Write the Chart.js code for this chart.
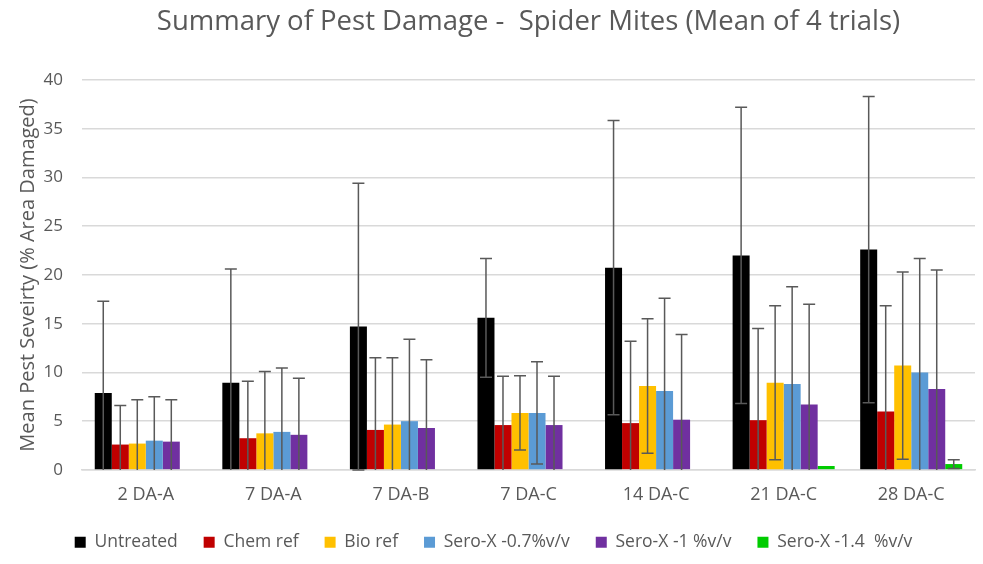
<!DOCTYPE html>
<html>
<head>
<meta charset="utf-8">
<script src="https://cdn.jsdelivr.net/npm/chart.js@4"></script>
<style>
  html, body { margin: 0; padding: 0; background: #fff; }
  #wrap { width: 983px; height: 564px; }
</style>
</head>
<body>
<div id="wrap"><canvas id="pestChart" width="983" height="564"></canvas></div>
<script>
const categories = ["2 DA-A", "7 DA-A", "7 DA-B", "7 DA-C", "14 DA-C", "21 DA-C", "28 DA-C"];
const seriesNames = ["Untreated", "Chem ref", "Bio ref", "Sero-X -0.7%v/v", "Sero-X -1 %v/v", "Sero-X -1.4  %v/v"];
const seriesColors = ["#000000", "#c00000", "#ffc000", "#5b9bd5", "#7030a0", "#00cc00"];

// mean values per series
const untreated = [7.9, 8.95, 14.7, 15.6, 20.75, 22.0, 22.6];
const chemRef   = [2.6, 3.25, 4.1, 4.6, 4.8, 5.1, 6.0];
const bioRef    = [2.7, 3.75, 4.65, 5.85, 8.6, 8.95, 10.7];
const sero07    = [3.0, 3.9, 5.0, 5.85, 8.1, 8.8, 10.0];
const sero1     = [2.9, 3.6, 4.3, 4.6, 5.15, 6.7, 8.3];
const sero14    = [null, null, null, null, null, 0.4, 0.6];

// error bar size (+/-) per series
const untreatedErr = [9.4, 11.65, 14.7, 6.1, 15.1, 15.2, 15.7];
const chemRefErr   = [4.0, 5.85, 7.4, 5.0, 8.4, 9.4, 10.85];
const bioRefErr    = [4.5, 6.35, 6.85, 3.8, 6.9, 7.9, 9.6];
const sero07Err    = [4.5, 6.55, 8.4, 5.25, 9.5, 10.0, 11.7];
const sero1Err     = [4.3, 5.8, 7.0, 5.0, 8.75, 10.3, 12.2];
const sero14Err    = [null, null, null, null, null, 0, 0.45];

const yTicks = [0, 5, 10, 15, 20, 25, 30, 35, 40];

const allValues = [untreated, chemRef, bioRef, sero07, sero1, sero14];
const allErrors = [untreatedErr, chemRefErr, bioRefErr, sero07Err, sero1Err, sero14Err];

const FONT = "'Open Sans', Lato, sans-serif";
const GREY = "#595959";

// draws the +/- error bars on top of the bars
const errorBars = {
    id: "errorBars",
    afterDatasetsDraw(chart) {
        const ctx = chart.ctx;
        const y = chart.scales.y;
        const area = chart.chartArea;
        ctx.save();
        ctx.beginPath();
        ctx.rect(area.left, area.top, area.right - area.left, area.bottom - area.top + 1);
        ctx.clip();
        ctx.strokeStyle = GREY;
        ctx.lineWidth = 1.5;
        chart.data.datasets.forEach((ds, i) => {
            const meta = chart.getDatasetMeta(i);
            meta.data.forEach((bar, j) => {
                const v = ds.data[j];
                const e = ds.errors[j];
                if (v == null || !e) return;
                const x = bar.x;
                const top = y.getPixelForValue(v + e);
                const low = v - e;
                const bottom = y.getPixelForValue(Math.max(0, low));
                ctx.beginPath();
                ctx.moveTo(x, top);
                ctx.lineTo(x, bottom);
                ctx.moveTo(x - 6, top);
                ctx.lineTo(x + 6, top);
                if (low >= 0) {
                    ctx.moveTo(x - 6, bottom);
                    ctx.lineTo(x + 6, bottom);
                }
                ctx.stroke();
            });
        });
        ctx.restore();
    }
};

const ctx = document.getElementById("pestChart").getContext("2d");
new Chart(ctx, {
    type: "bar",
    data: {
        labels: categories,
        datasets: seriesNames.map((name, i) => ({
            label: name,
            data: allValues[i],
            errors: allErrors[i],
            backgroundColor: seriesColors[i],
            borderWidth: 0,
            barPercentage: 1.0,
            categoryPercentage: 0.8
        }))
    },
    options: {
        responsive: false,
        animation: false,
        layout: { padding: { left: 12, right: 8, top: 0, bottom: 3 } },
        plugins: {
            title: {
                display: true,
                fullSize: false,
                text: "Summary of Pest Damage -  Spider Mites (Mean of 4 trials)",
                color: GREY,
                font: { family: FONT, size: 27.5, weight: "normal" },
                padding: { top: 6, bottom: 41 }
            },
            legend: {
                position: "bottom",
                labels: {
                    color: GREY,
                    font: { family: FONT, size: 17.5 },
                    boxWidth: 11,
                    boxHeight: 11,
                    padding: 26
                }
            },
            tooltip: { enabled: false }
        },
        scales: {
            x: {
                afterFit: (axis) => { axis.height = axis.height - 4; },
                grid: { display: false },
                border: { color: "#d9d9d9", width: 1.5 },
                ticks: { color: GREY, font: { family: FONT, size: 18 }, padding: 6 }
            },
            y: {
                min: 0,
                max: 40,
                afterBuildTicks: (axis) => { axis.ticks = yTicks.map(v => ({ value: v })); },
                afterFit: (axis) => { axis.width = 70; },
                grid: { color: "#d9d9d9", lineWidth: 1.5, drawTicks: false },
                border: { display: false },
                ticks: { color: GREY, font: { family: FONT, size: 17 }, padding: 19 },
                title: {
                    display: true,
                    text: "Mean Pest Seveirty (% Area Damaged)",
                    color: GREY,
                    font: { family: FONT, size: 20 },
                    padding: 4
                }
            }
        }
    },
    plugins: [errorBars]
});
</script>
</body>
</html>
